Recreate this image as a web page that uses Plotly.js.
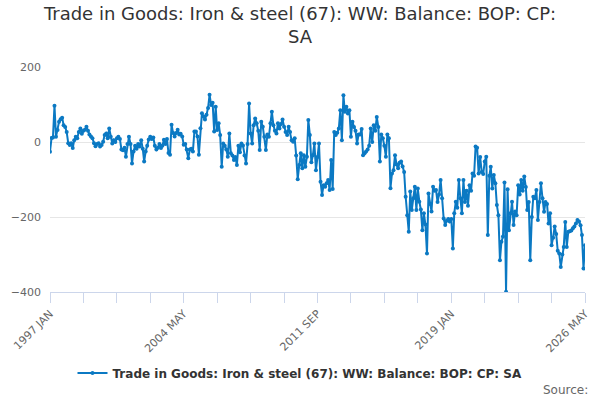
<!DOCTYPE html>
<html>
<head>
<meta charset="utf-8">
<script src="https://cdn.plot.ly/plotly-3.0.1.min.js"></script>
<style>html,body{margin:0;padding:0;background:#fff}#chart{width:600px;height:400px}</style>
</head>
<body>
<div id="chart"></div>
<script>
const seriesName = 'Trade in Goods: Iron & steel (67): WW: Balance: BOP: CP: SA';
const startYear = 1997;
const startMonth = 1;
const balance = [
  -26, 11, 12, 97, 14, 32, 54, 61, 65, 45, 40, 27,
  -3, -8, -3, -16, 5, 14, 10, 27, 36, 22, 30, 33,
  41, 30, 20, 15, 10, -3, -11, -5, -3, -12, -8, 1,
  19, 23, 10, 36, 14, -4, 5, 0, 10, 14, 8, -20,
  -22, -15, -39, -5, 14, -5, -57, -25, -10, -18, -5, -12,
  5, -18, -52, -25, -10, 7, 14, 8, 12, -10, -20, -15,
  -5, -16, -10, 6, -5, 8, -29, -34, 46, 24, 15, 24,
  33, 20, 22, 15, -7, -5, -20, -43, -20, -18, -25, 28,
  28, 15, -34, 37, 77, 68, 60, 73, 91, 126, 99, 105,
  28, 94, 32, 50, 19, -66, -4, -10, -20, -39, 23, -30,
  -36, -48, -40, -61, -10, -27, -4, -9, -36, -57, -5, 103,
  23, -4, 45, 63, 50, 30, -21, 54, 41, 14, -21, 20,
  14, 50, 81, 45, 30, 23, 50, 36, 48, 60, 41, 27,
  19, 41, 27, 5, 1, 10, -36, -99, -61, -30, -70, -35,
  -66, -39, 59, 19, -54, -35, -4, -75, -40, -4, -106, -141,
  -115, -119, -110, -101, -128, -48, -125, 27, 19, 25, 36, 85,
  5, 125, 81, 94, 76, 85, 14, 54, 40, 30, -4, 20,
  20, 35, -35, -30, -25, -20, -10, 36, 0, 45, 30, 67,
  40, -52, 20, 10, -10, -39, 20, 10, -123, -84, -75, -35,
  -60, -70, -55, -52, -65, -80, -146, -195, -239, -132, -181, -150,
  -119, -181, -124, -159, -180, -235, -190, -220, -297, -137, -165, -185,
  -119, -130, -128, -160, -140, -101, -150, -204, -221, -210, -205, -212,
  -205, -284, -190, -159, -175, -101, -150, -190, -101, -160, -130, -170,
  -115, -130, -84, -90, -12, -15, -84, -40, -80, -85, -52, -39,
  -248, -90, -66, -124, -88, -110, -168, -195, -315, -266, -252, -108,
  -399, -126, -235, -190, -159, -221, -185, -195, -115, -140, -101, -130,
  -92, -120, -181, -160, -315, -200, -146, -150, -128, -208, -160, -110,
  -150, -186, -160, -165, -217, -190, -275, -255, -225, -245, -290, -297,
  -333, -300, -280, -213, -280, -239, -238, -236, -230, -225, -217, -208,
  -212, -222, -248, -337, -275
];
const tickDates = ['1997-01-01','1998-11-01','2000-09-01','2002-07-01','2004-05-01','2006-03-01','2008-01-01','2009-11-01','2011-09-01','2013-07-01','2015-05-01','2017-03-01','2019-01-01','2020-11-01','2022-09-01','2024-07-01','2026-05-01'];
const tickLabels = ['1997 JAN','','','','2004 MAY','','','','2011 SEP','','','','2019 JAN','','','','2026 MAY'];
const yTicks = [-400, -200, 0, 200];

const months = balance.map((_, i) => {
  const m = startMonth - 1 + i;
  const y = startYear + Math.floor(m / 12);
  const mm = (m % 12) + 1;
  return y + '-' + String(mm).padStart(2, '0') + '-01';
});

const FONT = 'DejaVu Sans, Verdana, sans-serif';
const trace = {
  x: months, y: balance, type: 'scatter', mode: 'lines+markers',
  name: seriesName,
  line: {color: '#0b79c3', width: 2},
  marker: {color: '#0b79c3', size: 4}
};
const layout = {
  width: 600, height: 400,
  margin: {l: 50, r: 15, t: 67, b: 108},
  paper_bgcolor: '#fff', plot_bgcolor: '#fff',
  font: {family: FONT, color: '#333'},
  title: {text: 'Trade in Goods: Iron & steel (67): WW: Balance: BOP: CP:<br>SA',
          font: {family: FONT, size: 18, color: '#333'},
          x: 0.5, xref: 'container', xanchor: 'center', y: 0.95, yref: 'container', yanchor: 'top'},
  xaxis: {type: 'date', range: [months[0], months[months.length - 1]],
          tickmode: 'array', tickvals: tickDates, ticktext: tickLabels,
          tickangle: -45, ticks: 'outside', ticklen: 10, tickcolor: '#ccd6eb', tickwidth: 1,
          showline: true, linecolor: '#ccd6eb', linewidth: 1,
          showgrid: false, zeroline: false,
          tickfont: {family: FONT, size: 11, color: '#666'}},
  yaxis: {range: [-400, 200], tickmode: 'array', tickvals: yTicks,
          showgrid: true, gridcolor: '#e6e6e6', gridwidth: 1, zeroline: false,
          showline: false, ticks: '', ticklabelstandoff: 8,
          tickfont: {family: FONT, size: 11, color: '#666'}},
  showlegend: true,
  legend: {orientation: 'h', x: 0.5, xanchor: 'center', xref: 'container',
           y: 27/400, yref: 'container', yanchor: 'middle',
           font: {family: FONT, size: 12, color: '#333', weight: 'bold'}},
  annotations: [{text: 'Source:', xref: 'paper', yref: 'paper', x: 1.009, y: -0.436,
                 xanchor: 'right', yanchor: 'middle', showarrow: false,
                 font: {family: FONT, size: 12, color: '#666'}}]
};
Plotly.newPlot('chart', [trace], layout, {displayModeBar: false, staticPlot: true});
</script>
</body>
</html>
